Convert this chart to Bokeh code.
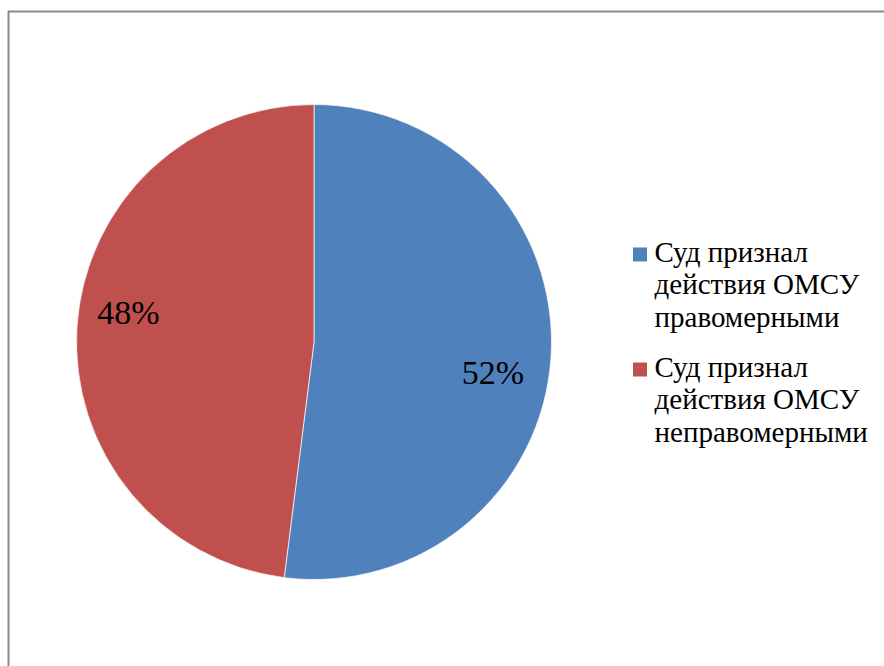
import math
from bokeh.plotting import figure
from bokeh.models import Range1d
from bokeh.core.properties import value
from bokeh.embed import file_html
from bokeh.resources import INLINE

categories = ["Суд признал\nдействия ОМСУ\nправомерными",
              "Суд признал\nдействия ОМСУ\nнеправомерными"]
shares = [52, 48]
labels = ["52%", "48%"]
colors = ["#4F81BD", "#C0504D"]

FONT = value("'Liberation Serif', 'Times New Roman', serif")
K = 0.44  # empirical baseline correction (fraction of font size)

W, H = 884, 666
p = figure(width=W, height=H, output_backend="svg", toolbar_location=None,
           x_range=Range1d(0, W), y_range=Range1d(0, H),
           min_border=0, outline_line_color=None)
p.axis.visible = False
p.grid.visible = False
p.background_fill_color = "white"
p.border_fill_color = "white"

# frame
p.line([8, 8, 900], [-10, H - 11, H - 11], line_color="#8a8a8a", line_width=2)

cx, cy, r = 313.5, H - 341.5, 237.5
total = sum(shares)
start = math.pi / 2
LFS = 34
label_pos = [(492.5, H - 386.7), (128.0, H - 326.7)]
for i, s in enumerate(shares):
    sweep = 2 * math.pi * s / total
    end = start - sweep
    p.wedge(x=cx, y=cy, radius=r, start_angle=end, end_angle=start,
            fill_color=colors[i], line_color="white", line_width=0.7)
    start = end

for i, lab in enumerate(labels):
    p.text(x=[label_pos[i][0]], y=[label_pos[i][1] + K * LFS], text=[lab],
           text_font=FONT, text_font_size=f"{LFS}px",
           text_align="center", text_baseline="alphabetic", text_color="black")

# legend
GFS = 29
leg_sq_y = [H - 254, H - 369]
leg_text_y = [H - 264, H - 379]
for i, cat in enumerate(categories):
    p.rect(x=[639.5], y=[leg_sq_y[i]], width=14, height=14,
           fill_color=colors[i], line_color=None)
    lines = cat.split("\n")
    for j, ln in enumerate(lines):
        p.text(x=[654], y=[leg_text_y[i] - 32.5 * j + K * GFS], text=[ln],
               text_font=FONT, text_font_size=f"{GFS}px",
               text_align="left", text_baseline="alphabetic", text_color="black")

open("out.html", "w").write(file_html(p, INLINE))
